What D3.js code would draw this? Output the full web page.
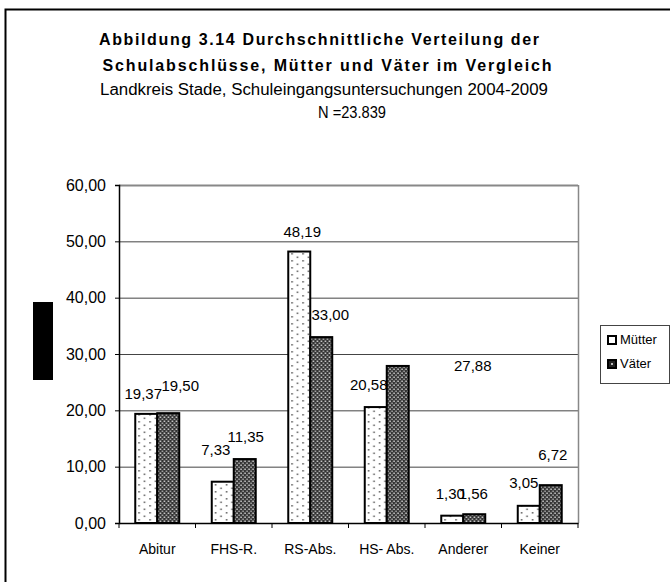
<!DOCTYPE html>
<html>
<head>
<meta charset="utf-8">
<script src="https://cdn.jsdelivr.net/npm/d3@7"></script>
<style>
  body { margin: 0; background: #fff; }
  svg { display: block; font-family: "Liberation Sans", Arial, sans-serif; }
</style>
</head>
<body>
<div id="chart"></div>
<script>
// Chart data
var categories = ["Abitur", "FHS-R.", "RS-Abs.", "HS- Abs.", "Anderer", "Keiner"];
var seriesNames = ["Mütter", "Väter"];
var muetter = [19.37, 7.33, 48.19, 20.58, 1.30, 3.05];
var vaeter = [19.50, 11.35, 33.00, 27.88, 1.56, 6.72];
var yTicks = [0, 10, 20, 30, 40, 50, 60];

// Label nudges (Excel placed some labels off-centre)
var labelDx = [[-3, -7, 3, -7, -2, -5], [12, 1, 9, 75, -1, 2]];
var labelDy = [[-15, -27, -15, -17, -17, -18], [-22, -17, -17, 5, -15, -25]];

var width = 670;
var height = 582;

var svg = d3.select("#chart").append("svg")
  .attr("width", width)
  .attr("height", height);

// Patterns for the bars
var defs = svg.append("defs");

var dots = defs.append("pattern")
  .attr("id", "dots")
  .attr("patternUnits", "userSpaceOnUse")
  .attr("width", 11)
  .attr("height", 7);
dots.append("rect").attr("width", 11).attr("height", 7).attr("fill", "#fff");
dots.append("rect").attr("x", 3).attr("y", 1).attr("width", 1.6).attr("height", 1.6).attr("fill", "#666");
dots.append("rect").attr("x", 8.5).attr("y", 4.5).attr("width", 1.6).attr("height", 1.6).attr("fill", "#666");

var hatch = defs.append("pattern")
  .attr("id", "hatch")
  .attr("patternUnits", "userSpaceOnUse")
  .attr("width", 4)
  .attr("height", 4);
hatch.append("rect").attr("width", 4).attr("height", 4).attr("fill", "#333");
hatch.append("rect").attr("x", 0.5).attr("y", 0.5).attr("width", 1.5).attr("height", 1.5).attr("fill", "#d8d8d8");
hatch.append("rect").attr("x", 2.5).attr("y", 2.5).attr("width", 1.5).attr("height", 1.5).attr("fill", "#b0b0b0");

var fills = ["url(#dots)", "url(#hatch)"];

// Outer frame
svg.append("path")
  .attr("d", "M5.5," + height + "V9.5H" + width)
  .attr("fill", "none")
  .attr("stroke", "#000")
  .attr("stroke-width", 2);

// Titles
var titleLines = [
  { text: "Abbildung 3.14   Durchschnittliche Verteilung der", x: 319, y: 45, len: 440, bold: true },
  { text: "Schulabschlüsse, Mütter und Väter im Vergleich", x: 327, y: 71, len: 449, bold: true },
  { text: "Landkreis Stade, Schuleingangsuntersuchungen 2004-2009", x: 324, y: 95, len: 448, bold: false },
  { text: "N =23.839", x: 352, y: 118, len: 68, bold: false }
];
svg.selectAll("text.title")
  .data(titleLines)
  .enter()
  .append("text")
  .attr("class", "title")
  .attr("x", function (d) { return d.x; })
  .attr("y", function (d) { return d.y; })
  .attr("text-anchor", "middle")
  .attr("textLength", function (d) { return d.len; })
  .attr("lengthAdjust", function (d) { return d.bold ? "spacing" : "spacingAndGlyphs"; })
  .style("font-size", "16px")
  .style("font-weight", function (d) { return d.bold ? "bold" : "normal"; })
  .text(function (d) { return d.text; });

// Scales
var plotLeft = 119, plotRight = 578, plotTop = 185, plotBottom = 523;

var x0 = d3.scaleBand()
  .domain(categories)
  .range([plotLeft, plotRight])
  .paddingInner(0.425)
  .paddingOuter(0.2125);

var x1 = d3.scaleBand()
  .domain(seriesNames)
  .range([0, x0.bandwidth()]);

var y = d3.scaleLinear()
  .domain([0, 60])
  .range([plotBottom, plotTop]);

var fmt = function (v) { return d3.format(".2f")(v).replace(".", ","); };

// Gridlines
svg.append("g")
  .selectAll("line")
  .data(yTicks.filter(function (d) { return d > 0; }))
  .enter()
  .append("line")
  .attr("x1", plotLeft)
  .attr("x2", plotRight)
  .attr("y1", function (d) { return y(d) + 0.5; })
  .attr("y2", function (d) { return y(d) + 0.5; })
  .attr("stroke", function (d) { return d === 60 ? "#888" : "#444"; })
  .attr("stroke-width", function (d) { return d === 60 ? 2 : 1; });

// Right border of plot area
svg.append("line")
  .attr("x1", plotRight + 0.5).attr("x2", plotRight + 0.5)
  .attr("y1", plotTop).attr("y2", plotBottom)
  .attr("stroke", "#888")
  .attr("stroke-width", 1.5);

// Y axis
var yAxis = d3.axisLeft(y)
  .tickValues(yTicks)
  .tickSize(4)
  .tickPadding(9)
  .tickFormat(fmt);

var yg = svg.append("g")
  .attr("transform", "translate(" + plotLeft + ",0)")
  .call(yAxis);
yg.select(".domain").attr("stroke", "#000").attr("stroke-width", 1.5);
yg.selectAll(".tick line").attr("stroke", "#000");
yg.selectAll(".tick text")
  .style("font-size", "16px")
  .style("font-family", "Liberation Sans, Arial, sans-serif")
  .attr("fill", "#000");

// Bars
var groups = svg.append("g")
  .selectAll("g")
  .data(categories)
  .enter()
  .append("g")
  .attr("transform", function (d) { return "translate(" + x0(d) + ",0)"; });

groups.selectAll("rect")
  .data(function (d, i) { return [muetter[i], vaeter[i]].map(function (v, s) { return { s: s, v: v, i: i }; }); })
  .enter()
  .append("rect")
  .attr("x", function (d) { return x1(seriesNames[d.s]); })
  .attr("y", function (d) { return y(d.v); })
  .attr("width", x1.bandwidth())
  .attr("height", function (d) { return y(0) - y(d.v); })
  .attr("fill", function (d) { return fills[d.s]; })
  .attr("stroke", "#000")
  .attr("stroke-width", 2);

// Value labels
groups.selectAll("text")
  .data(function (d, i) { return [muetter[i], vaeter[i]].map(function (v, s) { return { s: s, v: v, i: i }; }); })
  .enter()
  .append("text")
  .attr("x", function (d) { return x1(seriesNames[d.s]) + x1.bandwidth() / 2 + labelDx[d.s][d.i]; })
  .attr("y", function (d) { return y(d.v) + labelDy[d.s][d.i]; })
  .attr("text-anchor", "middle")
  .style("font-size", "15px")
  .text(function (d) { return fmt(d.v); });

// X axis
var xAxis = d3.axisBottom(x0)
  .tickSize(0)
  .tickPadding(21);

var xg = svg.append("g")
  .attr("transform", "translate(0," + plotBottom + ")")
  .call(xAxis);
xg.select(".domain").attr("stroke", "#000").attr("stroke-width", 1.5);
xg.selectAll(".tick text")
  .style("font-size", "14px")
  .style("font-family", "Liberation Sans, Arial, sans-serif")
  .attr("fill", "#000");

// Category divider ticks
xg.selectAll("line.div")
  .data(d3.range(categories.length + 1))
  .enter()
  .append("line")
  .attr("class", "div")
  .attr("x1", function (d) { return plotLeft + d * x0.step(); })
  .attr("x2", function (d) { return plotLeft + d * x0.step(); })
  .attr("y1", 0)
  .attr("y2", 5)
  .attr("stroke", "#000");

// Legend
var legend = svg.append("g")
  .attr("transform", "translate(600,325)");
legend.append("rect")
  .attr("x", 0.5).attr("y", 0.5)
  .attr("width", 69).attr("height", 58)
  .attr("fill", "#fff")
  .attr("stroke", "#444");
var items = legend.selectAll("g")
  .data(seriesNames)
  .enter()
  .append("g")
  .attr("transform", function (d, i) { return "translate(8," + (11 + i * 24) + ")"; });
items.append("rect")
  .attr("width", 8).attr("height", 8)
  .attr("fill", function (d, i) { return i === 0 ? "#fff" : "#222"; })
  .attr("stroke", "#000")
  .attr("stroke-width", 2);
items.filter(function (d, i) { return i === 1; })
  .append("rect")
  .attr("x", 3).attr("y", 3).attr("width", 2).attr("height", 2)
  .attr("fill", "#bbb");
items.append("text")
  .attr("x", 12)
  .attr("y", 8)
  .style("font-size", "13px")
  .text(function (d) { return d; });

// Black box on the left
svg.append("rect")
  .attr("x", 33).attr("y", 302)
  .attr("width", 20).attr("height", 78)
  .attr("fill", "#000");
</script>
</body>
</html>
